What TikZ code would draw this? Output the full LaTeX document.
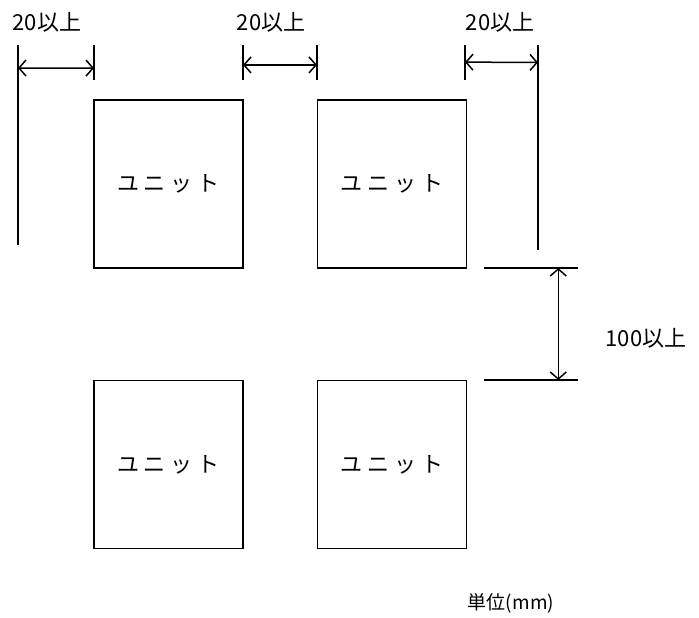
\documentclass[tikz,border=0pt]{standalone}
\usepackage{fontspec}
\newfontfamily\jp{Noto Sans CJK JP}
\usepackage{tikz}
\usetikzlibrary{arrows.meta,calc}

\begin{document}
\begin{tikzpicture}[x=1pt,y=-1pt]
\tikzset{
	unit box/.style = {draw, line width = 1.6pt, minimum width = 149pt, minimum height = 168pt, inner sep = 0, font = \jp\fontsize{22}{26}\selectfont},
	ext line/.style = {line width = 1.5pt},
	dim line/.style = {line width = 1.5pt, {Straight Barb[length=7pt,width=16pt]}-{Straight Barb[length=7pt,width=16pt]}},
	dim label/.style = {font = \jp\fontsize{22}{26}\selectfont, inner sep = 0},
}
\useasboundingbox (0,0) rectangle (699,618);

\node(u1)[unit box] at (168.5,184) {ユ\hspace{5pt}ニ\hspace{5pt}ッ\hspace{5pt}ト};
\node(u2)[unit box] at (392,184) {ユ\hspace{5pt}ニ\hspace{5pt}ッ\hspace{5pt}ト};
\node(u3)[unit box] at (168.5,464.5) {ユ\hspace{5pt}ニ\hspace{5pt}ッ\hspace{5pt}ト};
\node(u4)[unit box] at (392,464.5) {ユ\hspace{5pt}ニ\hspace{5pt}ッ\hspace{5pt}ト};

% horizontal clearances
\coordinate (a0) at (18,45);
\coordinate (a1) at (18,245);
\coordinate (b0) at (94,45);
\coordinate (b1) at (94,80);
\coordinate (c0) at (243,45);
\coordinate (c1) at (243,80);
\coordinate (d0) at (317,45);
\coordinate (d1) at (317,80);
\coordinate (f0) at (465,45);
\coordinate (f1) at (465,80);
\coordinate (g0) at (538,45);
\coordinate (g1) at (538,250);

\draw [ext line] (a0) to (a1);
\draw [ext line] (b0) to (b1);
\draw [ext line] (c0) to (c1);
\draw [ext line] (d0) to (d1);
\draw [ext line] (f0) to (f1);
\draw [ext line] (g0) to (g1);

\draw [dim line] ($(a0)!0.115!(a1)$) to ($(b0)!0.66!(b1)$);
\draw [dim line] ($(c0)!0.57!(c1)$) to ($(d0)!0.57!(d1)$);
\draw [dim line] ($(f0)!0.49!(f1)$) to ($(g0)!0.085!(g1)$);

\node(t1)[dim label] at (47,22) {20以上};
\node(t2)[dim label] at (271,22) {20以上};
\node(t3)[dim label] at (500,22) {20以上};

% vertical clearance
\coordinate (h0) at (484,268);
\coordinate (h1) at (578,268);
\coordinate (k0) at (484,380);
\coordinate (k1) at (578,380);
\draw [ext line] (h0) to (h1);
\draw [ext line] (k0) to (k1);
\draw [dim line] ($(h0)!0.79!(h1)$) to ($(k0)!0.79!(k1)$);

\node(t4)[dim label] at (646,338) {100以上};

\node(mm)[dim label, font = \jp\fontsize{19}{22}\selectfont] at (511,603) {単位(mm)};

\end{tikzpicture}
\end{document}
